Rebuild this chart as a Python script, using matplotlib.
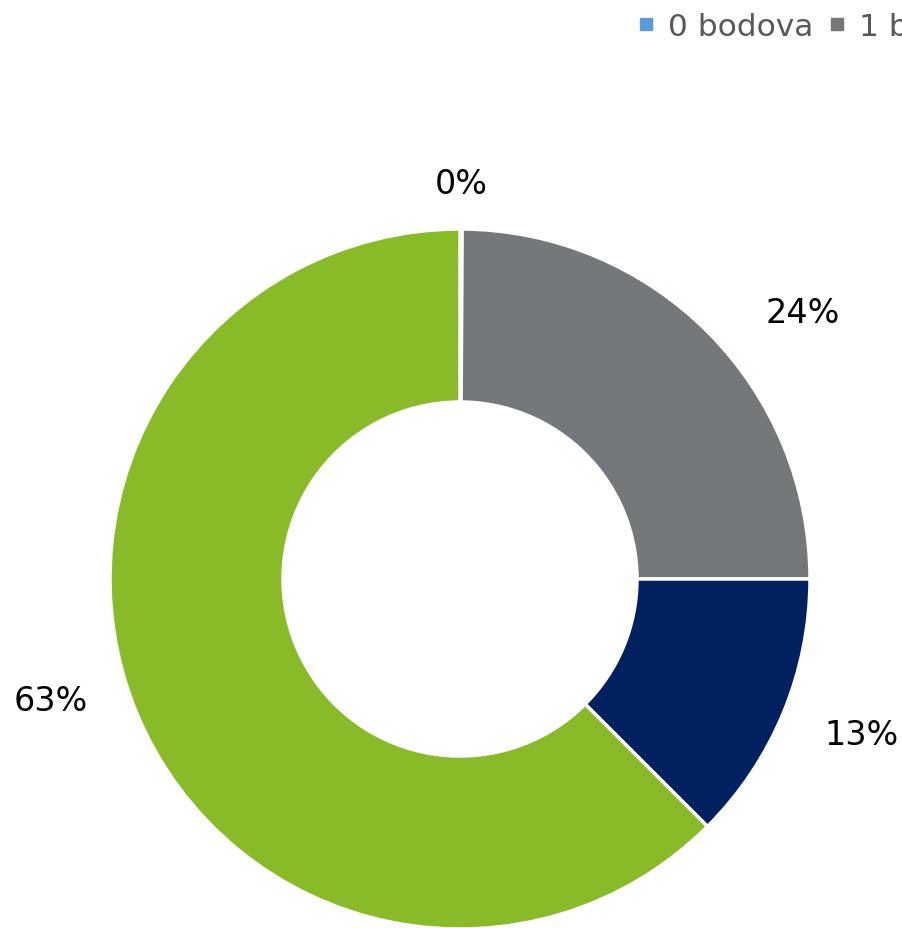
import matplotlib.pyplot as plt
from matplotlib.lines import Line2D
import numpy as np

kategorier = ["0 bodova", "1 bod", "2 boda", "3 boda"]
andeler = [0.1, 24.9, 12.5, 62.5]          # prosent
etiketter = ["0%", "24%", "13%", "63%"]
farger = ["#5B9BD5", "#75787B", "#002060", "#88BB27"]

fig = plt.figure(figsize=(9.03, 9.29), dpi=100)
ax = fig.add_axes([0, 0, 1, 1])

sentrum = (460, 349)
radius = 350

kiler, _ = ax.pie(andeler, colors=farger, startangle=90, counterclock=False,
                  center=sentrum, radius=radius, frame=True,
                  wedgeprops=dict(width=173, edgecolor="white", linewidth=2.5))
ax.set_xlim(0, 903)
ax.set_ylim(0, 929)
ax.set_aspect("equal")
ax.axis("off")

# etikettplassering (vinkel-justering og avstand), som i Excel "best fit"
justering = [0, -7, 1.3, -6]
avstand = [1.13, 1.24, 1.23, 1.22]
for kile, tekst, dv, r in zip(kiler, etiketter, justering, avstand):
    midt = np.deg2rad((kile.theta1 + kile.theta2) / 2 + dv)
    x = sentrum[0] + r * radius * np.cos(midt)
    y = sentrum[1] + r * radius * np.sin(midt)
    ax.text(x, y, tekst, fontsize=24, ha="center", va="center", color="black")

handles = [Line2D([], [], marker="s", linestyle="none", markersize=9,
                  color=f) for f in farger]
fig.legend(handles, kategorier, loc="upper left", ncol=4, frameon=False,
           bbox_to_anchor=(637 / 903, 1 - 13 / 929), borderaxespad=0, borderpad=0,
           fontsize=22.5, handlelength=0.6, handletextpad=0.4, columnspacing=0.45,
           labelcolor="#595959")

fig.savefig("out.png", dpi=100)
